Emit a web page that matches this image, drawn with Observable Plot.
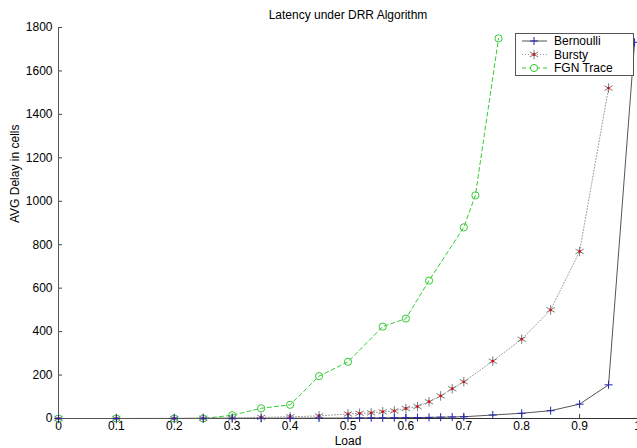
<!DOCTYPE html>
<html><head><meta charset="utf-8">
<script src="https://cdn.jsdelivr.net/npm/d3@7"></script>
<script src="https://cdn.jsdelivr.net/npm/@observablehq/plot@0.6"></script>
<style>
body{margin:0;background:#fff;}
#chart{position:relative;width:637px;height:448px;font-family:"Liberation Sans",Arial,sans-serif;}
#legend{position:absolute;left:515px;top:33px;width:117px;height:41px;border:1px solid #555;background:#fff;}
#legend svg{display:block;}
</style></head><body><div id="chart"><div id="legend"></div></div>
<script>
const title = "Latency under DRR Algorithm";
const xLabel = "Load";
const yLabel = "AVG Delay in cells";
const xTicks = [0, 0.1, 0.2, 0.3, 0.4, 0.5, 0.6, 0.7, 0.8, 0.9, 1];
const yTicks = [0, 200, 400, 600, 800, 1000, 1200, 1400, 1600, 1800];
const seriesNames = ["Bernoulli", "Bursty", "FGN Trace"];

const bernoulliLoad  = [0, 0.1, 0.2, 0.25, 0.3, 0.35, 0.4, 0.45, 0.5, 0.52, 0.54, 0.56, 0.58, 0.6, 0.62, 0.64, 0.66, 0.68, 0.7, 0.75, 0.8, 0.85, 0.9, 0.95, 0.995];
const bernoulliDelay = [0, 0, 0.5, 1, 1, 1, 1.5, 2, 2, 2.5, 3, 3, 3.5, 4, 4.5, 5, 6, 7, 8, 16, 24, 36, 66, 155, 1732];

const burstyLoad  = [0, 0.1, 0.2, 0.25, 0.3, 0.35, 0.4, 0.45, 0.5, 0.52, 0.54, 0.56, 0.58, 0.6, 0.62, 0.64, 0.66, 0.68, 0.7, 0.75, 0.8, 0.85, 0.9, 0.95];
const burstyDelay = [0, 0, 0, 1, 2, 5, 8, 12, 21, 24, 26, 31, 35, 46, 55, 77, 104, 137, 169, 264, 365, 500, 769, 1521];

const fgnLoad  = [0, 0.1, 0.2, 0.25, 0.3, 0.35, 0.4, 0.45, 0.5, 0.56, 0.6, 0.64, 0.7, 0.72, 0.76];
const fgnDelay = [0, 0, 0, 0, 15, 47, 63, 195, 261, 423, 460, 635, 880, 1027, 1750];

const toRows = (name, xs, ys) => xs.map((x, i) => ({series: name, load: x, delay: ys[i]}));
const bern = toRows(seriesNames[0], bernoulliLoad, bernoulliDelay);
const burst = toRows(seriesNames[1], burstyLoad, burstyDelay);
const fgn = toRows(seriesNames[2], fgnLoad, fgnDelay);

const styles = {
  Bernoulli: {line: "#555", dash: null, marker: "plus", mcolor: "#2323b0", r: 2.7},
  Bursty: {line: "#9a9a9a", dash: "1,2", marker: "asterisk", mcolor: "#7a7a7a", r: 4.5},
  "FGN Trace": {line: "#33cc33", dash: "4,3", marker: "circle", mcolor: "#33cc33", r: 3.6}
};

const plot = Plot.plot({
  width: 637, height: 448,
  marginTop: 27, marginBottom: 30, marginLeft: 58, marginRight: 0,
  style: {fontFamily: "'Liberation Sans', Arial, sans-serif", fontSize: "12px", background: "white", color: "#000", overflow: "visible"},
  x: {domain: [0, 1]},
  y: {domain: [0, 1800]},
  marks: [
    Plot.axisX({ticks: xTicks, tickSize: -4, tickPadding: 7, tickFormat: d => `${d}`, label: null, stroke: "#444"}),
    Plot.axisY({ticks: yTicks, tickSize: -4, tickPadding: 10, tickFormat: d => `${d}`, label: null, stroke: "#444"}),
    Plot.ruleX([0], {stroke: "#555"}),
    Plot.ruleY([0], {stroke: "#333"}),
    Plot.line(fgn, {x: "load", y: "delay", stroke: styles["FGN Trace"].line, strokeDasharray: styles["FGN Trace"].dash, strokeWidth: 1}),
    Plot.line(burst, {x: "load", y: "delay", stroke: styles.Bursty.line, strokeDasharray: styles.Bursty.dash, strokeWidth: 1}),
    Plot.line(bern, {x: "load", y: "delay", stroke: styles.Bernoulli.line, strokeWidth: 1}),
    Plot.dot(fgn, {x: "load", y: "delay", r: styles["FGN Trace"].r, stroke: styles["FGN Trace"].mcolor, fill: "none", strokeWidth: 1}),
    Plot.dot(burst, {x: "load", y: "delay", symbol: "asterisk", r: styles.Bursty.r, stroke: styles.Bursty.mcolor, strokeWidth: 1}),
    Plot.dot(burst, {x: "load", y: "delay", r: 1.4, fill: "#e01010", stroke: "none"}),
    Plot.dot(bern, {x: "load", y: "delay", symbol: "plus", r: styles.Bernoulli.r, stroke: styles.Bernoulli.mcolor, strokeWidth: 1}),
    Plot.text([title], {frameAnchor: "top", lineAnchor: "middle", dy: -12, fontSize: 12}),
    Plot.text([xLabel], {frameAnchor: "bottom", lineAnchor: "middle", dy: 23, fontSize: 12}),
    Plot.text([yLabel], {frameAnchor: "left", lineAnchor: "middle", dx: -43, rotate: -90, fontSize: 12})
  ]
});
document.getElementById("chart").insertBefore(plot, document.getElementById("legend"));

// legend
const lg = d3.select("#legend").append("svg").attr("width", 117).attr("height", 41)
  .style("font-family", "'Liberation Sans', Arial, sans-serif").style("font-size", "12px");
seriesNames.forEach((name, i) => {
  const s = styles[name];
  const y = 7 + i * 13.5;
  const g = lg.append("g").attr("transform", `translate(0,${y})`);
  g.append("line").attr("x1", 6).attr("x2", 31).attr("y1", 0).attr("y2", 0)
    .attr("stroke", s.line).attr("stroke-dasharray", s.dash);
  const sym = s.marker === "plus" ? d3.symbolPlus : s.marker === "asterisk" ? d3.symbolAsterisk : d3.symbolCircle;
  g.append("path").attr("transform", "translate(18,0)")
    .attr("d", d3.symbol(sym, s.r * s.r * Math.PI)())
    .attr("fill", s.marker === "circle" ? "white" : "none").attr("stroke", s.mcolor);
  if (s.marker === "asterisk") g.append("circle").attr("cx", 18).attr("r", 1.4).attr("fill", "#e01010");
  g.append("text").attr("x", 38).attr("y", 0).attr("dy", "0.35em").text(name);
});
</script>
</body></html>
